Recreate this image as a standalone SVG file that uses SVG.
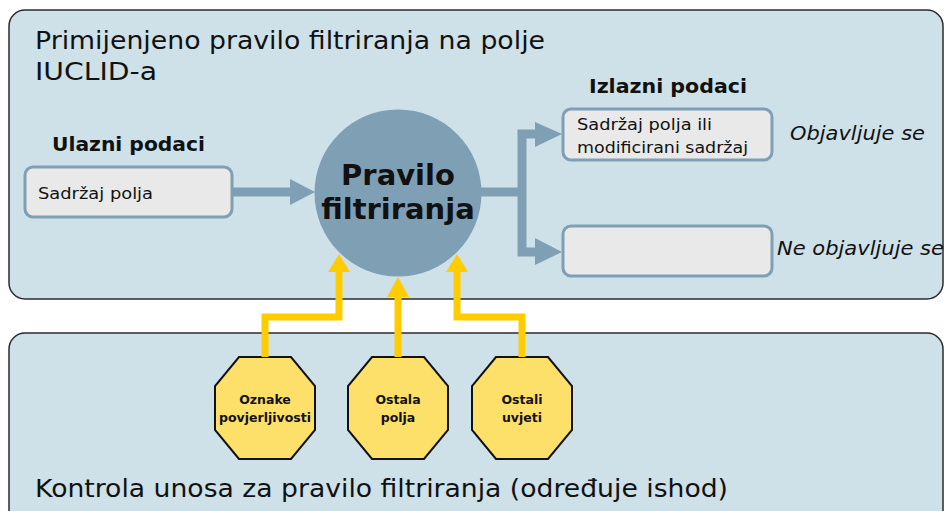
<svg xmlns="http://www.w3.org/2000/svg" width="944" height="511" viewBox="0 0 944 511">
<defs>
<style>
.panel{fill:#cee1e8;stroke:#2b2b2b;stroke-width:1.5}
.box{fill:#e9e9e9;stroke:#7f9fb5;stroke-width:3}
.t{font-family:"DejaVu Sans",Verdana,sans-serif;fill:#111}
.big{font-size:24px}
.hd{font-size:19px;font-weight:bold}
.bx{font-size:16px}
.it{font-size:19px;font-style:italic}
.oct{fill:#fde069;stroke:#111;stroke-width:2}
.ot{font-size:12.5px;font-weight:bold;text-anchor:middle}
.blue{fill:none;stroke:#7f9fb5;stroke-width:9}
.bluehead{fill:#7f9fb5}
.yel{fill:none;stroke:#ffcc00;stroke-width:7}
.yelhead{fill:#ffcc00}
</style>
</defs>
<rect width="944" height="511" fill="#ffffff"/>
<g id="panel-top">
<rect class="panel" x="9" y="10" width="934" height="289" rx="16"/>
<text class="t big" x="35" y="49" textLength="510" lengthAdjust="spacingAndGlyphs">Primijenjeno pravilo filtriranja na polje</text>
<text class="t big" x="35" y="80" textLength="122" lengthAdjust="spacingAndGlyphs">IUCLID-a</text>
</g>
<g id="panel-bottom">
<rect class="panel" x="9" y="333" width="934" height="200" rx="16"/>
<text class="t big" x="35" y="497" textLength="693" lengthAdjust="spacingAndGlyphs">Kontrola unosa za pravilo filtriranja (određuje ishod)</text>
</g>
<g id="input">
<text class="t hd" x="52" y="151" textLength="153" lengthAdjust="spacingAndGlyphs">Ulazni podaci</text>
<rect class="box" x="25" y="167" width="207" height="50" rx="8"/>
<text class="t bx" x="38" y="199" textLength="115" lengthAdjust="spacingAndGlyphs">Sadržaj polja</text>
</g>
<g id="rule">
<circle cx="398" cy="193" r="83.5" fill="#7f9fb5"/>
<text class="t" x="398" y="185" font-size="29" font-weight="bold" text-anchor="middle">Pravilo</text>
<text class="t" x="398" y="219" font-size="29" font-weight="bold" text-anchor="middle">filtriranja</text>
</g>
<g id="outputs">
<text class="t hd" x="589" y="93" textLength="158" lengthAdjust="spacingAndGlyphs">Izlazni podaci</text>
<rect class="box" x="563" y="109" width="209" height="51" rx="8"/>
<text class="t bx" x="577" y="130" textLength="135" lengthAdjust="spacingAndGlyphs">Sadržaj polja ili</text>
<text class="t bx" x="577" y="153" textLength="171" lengthAdjust="spacingAndGlyphs">modificirani sadržaj</text>
<text class="t it" x="790" y="140" textLength="135" lengthAdjust="spacingAndGlyphs">Objavljuje se</text>
<rect class="box" x="563" y="226" width="209" height="50" rx="8"/>
<text class="t it" x="777" y="255" textLength="167" lengthAdjust="spacingAndGlyphs">Ne objavljuje se</text>
</g>
<g id="oct1">
<polygon class="oct" points="239,357 291,357 315,386 315,430 291,459 239,459 215,430 215,386"/>
<text class="t ot" x="265" y="404">Oznake</text>
<text class="t ot" x="265" y="422">povjerljivosti</text>
</g>
<g id="oct2">
<polygon class="oct" points="372,357 424,357 448,386 448,430 424,459 372,459 348,430 348,386"/>
<text class="t ot" x="398" y="404">Ostala</text>
<text class="t ot" x="398" y="422">polja</text>
</g>
<g id="oct3">
<polygon class="oct" points="496,357 548,357 572,386 572,430 548,459 496,459 472,430 472,386"/>
<text class="t ot" x="522" y="404">Ostali</text>
<text class="t ot" x="522" y="422">uvjeti</text>
</g>
<g id="connectors">
<line class="blue" x1="232" y1="192" x2="292" y2="192"/>
<polygon class="bluehead" points="290,179 315,192 290,205"/>
<polyline class="blue" points="481,192 522,192"/>
<polyline class="blue" points="537,134 522,134 522,252 537,252"/>
<polygon class="bluehead" points="535,122 562,134 535,147"/>
<polygon class="bluehead" points="535,238 562,252 535,265"/>
<polyline class="yel" points="265,357 265,317 339,317 339,270"/>
<polygon class="yelhead" points="328,272 339,254 350,272"/>
<polyline class="yel" points="398,357 398,295"/>
<polygon class="yelhead" points="387,297 398,277 409,297"/>
<polyline class="yel" points="522,357 522,317 457,317 457,270"/>
<polygon class="yelhead" points="446,272 457,254 468,272"/>
</g>
</svg>
